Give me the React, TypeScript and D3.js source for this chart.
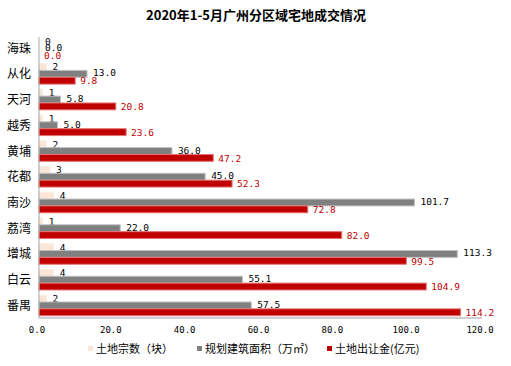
import React from "react";
import * as d3 from "d3";

const categories = ["海珠", "从化", "天河", "越秀", "黄埔", "花都", "南沙", "荔湾", "增城", "白云", "番禺"];
const landCount = [0, 2, 1, 1, 2, 3, 4, 1, 4, 4, 2];
const floorArea = [0.0, 13.0, 5.8, 5.0, 36.0, 45.0, 101.7, 22.0, 113.3, 55.1, 57.5];
const landPrice = [0.0, 9.8, 20.8, 23.6, 47.2, 52.3, 72.8, 82.0, 99.5, 104.9, 114.2];
const xTicks = [0, 20, 40, 60, 80, 100, 120];
const seriesNames = ["土地宗数（块）", "规划建筑面积（万㎡）", "土地出让金(亿元)"];
const title = "2020年1-5月广州分区域宅地成交情况";

const W = 511;
const H = 366;
const colors = ["#FBE5D6", "#808080", "#C00000"];
const strokes = ["#FCEDE3", "#BFBFBF", "#E57373"];
const labelColors = ["#000", "#000", "#C00000"];
const labelDy = [3.5, 2.5, 3.8];
const mono = "'DejaVu Sans Mono', 'Liberation Mono', monospace";
const cjk = "'Noto Sans CJK SC', 'Noto Sans', sans-serif";

export default function App() {
  const x = d3.scaleLinear().domain([0, 120]).range([39, 482]);
  const y = d3.scaleBand<string>().domain(categories).range([36.5, 317]).paddingInner(0.2).paddingOuter(0.05);
  const bw = y.bandwidth();
  const sub = bw / 3;
  const series = [landCount, floorArea, landPrice];
  const labelFmt = [(v: number) => String(v), (v: number) => v.toFixed(1), (v: number) => v.toFixed(1)];

  const legendX = [88, 197, 327];

  return (
    <svg width={W} height={H} style={{ position: "absolute", left: 0, top: 0, background: "#fff" }}>
      <rect x={0} y={0} width={W} height={H} fill="#fff" />
      <text x={256} y={20} textAnchor="middle" fontFamily={cjk} fontWeight={700} fontSize={13} fill="#000">
        {title}
      </text>
      {categories.map((c, i) => {
        const y0 = y(c)!;
        return (
          <g key={c}>
            <text x={31} y={y0 + bw / 2 + 4.5} textAnchor="end" fontFamily={cjk} fontSize={12} fill="#000">
              {c}
            </text>
            {series.map((s, k) => {
              const v = s[i];
              const by = y0 + k * sub;
              const w = x(v) - x(0);
              return (
                <g key={k}>
                  {w > 0 && (
                    <rect x={x(0)} y={by} width={w} height={sub} fill={colors[k]} stroke={strokes[k]} strokeWidth={1} />
                  )}
                  <text
                    x={x(v) + (k === 2 ? 5 : 6)}
                    y={by + sub / 2 + labelDy[k]}
                    fontFamily={mono}
                    fontSize={9.5}
                    fill={labelColors[k]}
                  >
                    {labelFmt[k](v)}
                  </text>
                </g>
              );
            })}
          </g>
        );
      })}
      <line x1={x(0)} x2={x(0)} y1={37} y2={318} stroke="#A6A6A6" strokeWidth={1} />
      <line x1={x(0)} x2={x(120)} y1={318} y2={318} stroke="#BFBFBF" strokeWidth={1.5} />
      {xTicks.map((t) => (
        <text key={t} x={x(t) - 2} y={333} textAnchor="middle" fontFamily={mono} fontSize={9} fill="#000">
          {t.toFixed(1)}
        </text>
      ))}
      {seriesNames.map((n, k) => (
        <g key={n}>
          <rect x={legendX[k]} y={346} width={5} height={5} fill={colors[k]} />
          <text x={legendX[k] + 8} y={352.5} fontFamily={cjk} fontSize={11} fill="#000">
            {n}
          </text>
        </g>
      ))}
    </svg>
  );
}
